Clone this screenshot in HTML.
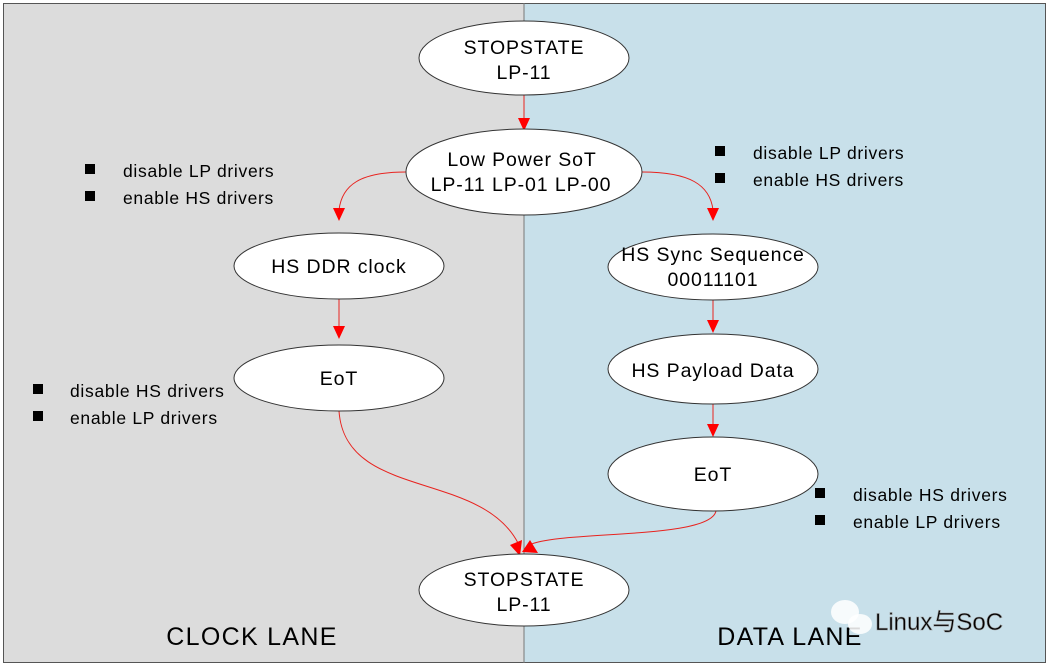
<!DOCTYPE html>
<html><head><meta charset="utf-8"><style>
html,body{margin:0;padding:0;background:#fff;}
svg{display:block;}
text{font-family:"Liberation Sans",Arial,sans-serif;fill:#000;}
</style></head><body>
<svg width="1050" height="667" viewBox="0 0 1050 667" xmlns="http://www.w3.org/2000/svg">
<rect x="3" y="3" width="521" height="660" fill="#dcdcdc"/>
<rect x="524" y="3" width="522" height="660" fill="#c8e0ea"/>
<rect x="3.5" y="3.5" width="1042" height="659" fill="none" stroke="#555" stroke-width="1"/>
<line x1="524" y1="3" x2="524" y2="663" stroke="#777" stroke-width="1"/>
<g fill="none" stroke="#e8231f" stroke-width="1">
<line x1="524" y1="95" x2="524" y2="118"/>
<path d="M406,172 C360,172 342,185 339,210"/>
<path d="M642,172 C690,172 710,185 713,210"/>
<line x1="339" y1="299" x2="339" y2="326"/>
<line x1="713" y1="300" x2="713" y2="320"/>
<line x1="713" y1="404" x2="713" y2="424"/>
<path d="M339,411 C345,500 480,470 518,543"/>
<path d="M716,511 C710,540 560,530 529,545"/>
</g>
<g fill="#f00">
<polygon points="518,118 530,118 524,131"/>
<polygon points="333,208 345,208 339,221"/>
<polygon points="707,208 719,208 713,221"/>
<polygon points="333,326 345,326 339,339"/>
<polygon points="707,320 719,320 713,333"/>
<polygon points="707,424 719,424 713,437"/>
<polygon points="510,545 522,540 520,556"/>
<polygon points="522,552 530,540 538,553"/>
</g>
<g fill="#fff" stroke="#333" stroke-width="1">
<ellipse cx="524" cy="58" rx="105" ry="37"/>
<ellipse cx="524" cy="172" rx="118" ry="43"/>
<ellipse cx="339" cy="266" rx="105" ry="33"/>
<ellipse cx="339" cy="378" rx="105" ry="33"/>
<ellipse cx="713" cy="267" rx="105" ry="33"/>
<ellipse cx="713" cy="369" rx="105" ry="35"/>
<ellipse cx="713" cy="474" rx="105" ry="37"/>
<ellipse cx="524" cy="590" rx="105" ry="36"/>
</g>
<g font-size="19.5" text-anchor="middle" letter-spacing="0.9">
<text x="524" y="54">STOPSTATE</text><text x="524" y="79">LP-11</text>
<text x="522" y="166">Low Power SoT</text><text x="521" y="191">LP-11 LP-01 LP-00</text>
<text x="339" y="273">HS DDR clock</text>
<text x="339" y="385">EoT</text>
<text x="713" y="261">HS Sync Sequence</text><text x="713" y="286">00011101</text>
<text x="713" y="377">HS Payload Data</text>
<text x="713" y="481">EoT</text>
<text x="524" y="586">STOPSTATE</text><text x="524" y="611">LP-11</text>
</g>
<g font-size="17.5" letter-spacing="0.7">
<rect x="85" y="164" width="10" height="10"/><text x="123" y="177">disable LP drivers</text>
<rect x="85" y="191" width="10" height="10"/><text x="123" y="204">enable HS drivers</text>
<rect x="715" y="146" width="10" height="10"/><text x="753" y="159">disable LP drivers</text>
<rect x="715" y="173" width="10" height="10"/><text x="753" y="186">enable HS drivers</text>
<rect x="33" y="384" width="10" height="10"/><text x="70" y="397">disable HS drivers</text>
<rect x="33" y="411" width="10" height="10"/><text x="70" y="424">enable LP drivers</text>
<rect x="815" y="488" width="10" height="10"/><text x="853" y="501">disable HS drivers</text>
<rect x="815" y="515" width="10" height="10"/><text x="853" y="528">enable LP drivers</text>
</g>
<g font-size="25" text-anchor="middle" letter-spacing="1.3">
<text x="252" y="645">CLOCK LANE</text>
<text x="790" y="645">DATA LANE</text>
</g>
<g>
<ellipse cx="845" cy="612" rx="14" ry="12" fill="#fff" opacity="0.85"/>
<ellipse cx="860" cy="624" rx="12" ry="10" fill="#fff" opacity="0.85"/>
<text x="875" y="630" font-size="24" fill="#fff" stroke="#999" stroke-width="0.6" style="font-family:'Liberation Sans','Noto Sans CJK SC',sans-serif">Linux与SoC</text>
</g>
</svg>
</body></html>
